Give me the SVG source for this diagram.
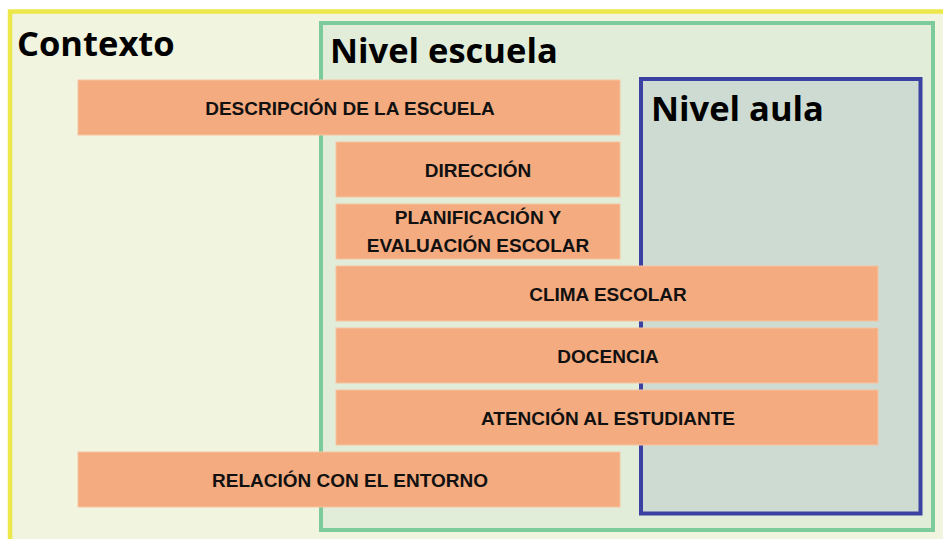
<svg xmlns="http://www.w3.org/2000/svg" width="943" height="539" viewBox="0 0 943 539">
<style>
.box{fill:#F4AB7F;stroke:#F7C4A2;stroke-width:1}
.lbl{font-family:"Liberation Sans",Arial,sans-serif;font-weight:bold;font-size:19px;fill:#111;text-anchor:middle}
.ttl{font-family:"Open Sans","Liberation Sans",sans-serif;font-weight:bold;font-size:34.5px;fill:#000}
</style>
<rect width="943" height="539" fill="#FFFFFF"/>
<g id="contexto">
<rect x="10" y="11.5" width="940" height="540" fill="#F1F4DF" stroke="#EDE84A" stroke-width="4.5"/>
<text class="ttl" x="17" y="56">Contexto</text>
</g>
<g id="nivel-escuela">
<rect x="321" y="23" width="612" height="507" fill="#E1EDD8" stroke="#7DCA9A" stroke-width="4"/>
<text class="ttl" x="330" y="63">Nivel escuela</text>
</g>
<g id="nivel-aula">
<rect x="641" y="79" width="279.5" height="434.5" fill="#CDDBD3" stroke="#3A41A2" stroke-width="4"/>
<text class="ttl" x="651" y="121">Nivel aula</text>
</g>
<g id="descripcion"><rect class="box" x="78" y="80" width="542" height="55"/><text class="lbl" x="350" y="115">DESCRIPCIÓN DE LA ESCUELA</text></g>
<g id="direccion"><rect class="box" x="336" y="142" width="284" height="55"/><text class="lbl" x="478" y="177">DIRECCIÓN</text></g>
<g id="planificacion"><rect class="box" x="336" y="204" width="284" height="55"/><text class="lbl" x="478" y="224">PLANIFICACIÓN Y</text><text class="lbl" x="478" y="252">EVALUACIÓN ESCOLAR</text></g>
<g id="clima"><rect class="box" x="336" y="266" width="542" height="55"/><text class="lbl" x="608" y="301">CLIMA ESCOLAR</text></g>
<g id="docencia"><rect class="box" x="336" y="328" width="542" height="55"/><text class="lbl" x="608" y="363">DOCENCIA</text></g>
<g id="atencion"><rect class="box" x="336" y="390" width="542" height="55"/><text class="lbl" x="608" y="425">ATENCIÓN AL ESTUDIANTE</text></g>
<g id="relacion"><rect class="box" x="78" y="452" width="542" height="55"/><text class="lbl" x="350" y="487">RELACIÓN CON EL ENTORNO</text></g>
<g id="connectors"></g>
</svg>
